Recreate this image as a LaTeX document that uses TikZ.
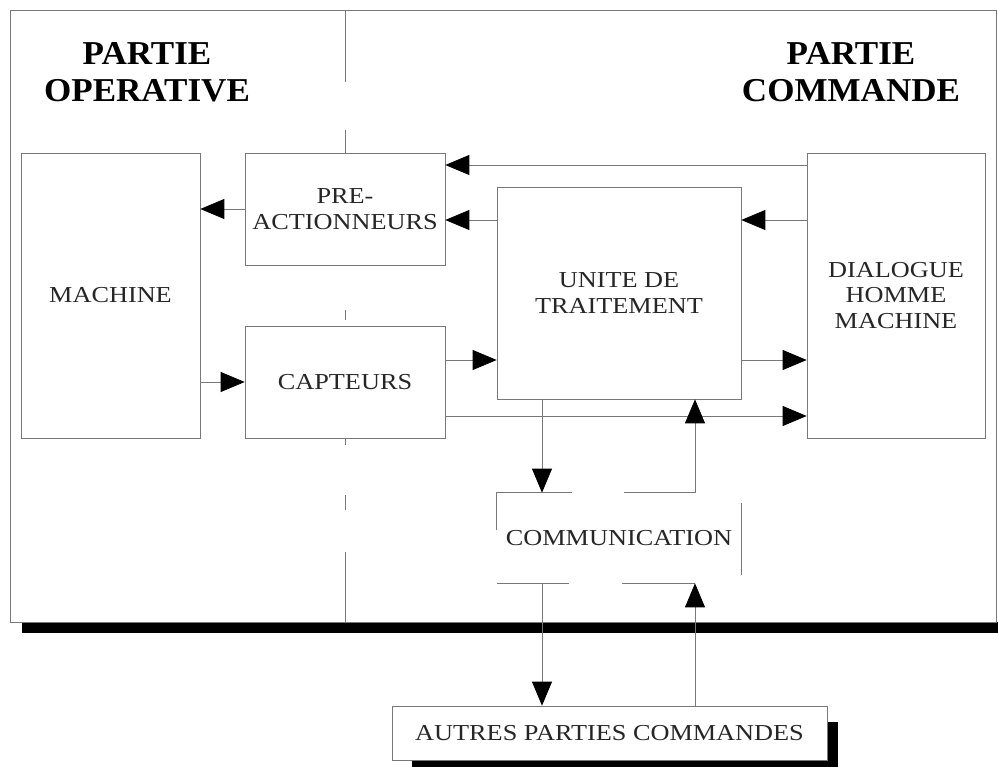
\documentclass[tikz,border=0pt]{standalone}
\usepackage{fontspec}
\setmainfont{Liberation Serif}[FakeStretch=1.15]
\newfontfamily\titlefont{Liberation Serif}[FakeStretch=1.05]
\usetikzlibrary{arrows.meta, positioning}
\definecolor{traitgris}{RGB}{120,120,120}
\tikzset{
line width=0.7pt, % thin grey strokes
>={Triangle[length=0.48cm, width=0.4cm, color=black]}, % big black heads
bloc/.style={draw=traitgris, fill=white, align=center, text=black!85, font=\fontsize{13}{14.5}\selectfont}, % the boxes
titre/.style={align=center, font=\titlefont\fontsize{19}{21}\selectfont\bfseries}, % the two headings
fleche/.style={draw=traitgris, ->}, % connectors
}

\begin{document}
\begin{tikzpicture}[x=0.02cm, y=-0.02cm]
      \useasboundingbox (0,0) rectangle (998,767);
      \fill[black] (22,622) rectangle (1010,633);
      \draw[traitgris, fill=white] (10,10) rectangle (996,622);
      \draw[traitgris] (345,10) -- (345,82) (345,130) -- (345,153) (345,310) -- (345,320)
      (345,438) -- (345,445) (345,495) -- (345,510) (345,552) -- (345,622);

      \node[titre] (po) at (147,72) {PARTIE\\OPERATIVE};
      \node[titre] (pc) at (851,72) {PARTIE\\COMMANDE};

      \node[bloc, minimum width=3.58cm, minimum height=5.7cm] (machine) at (110.5,295.5) {MACHINE};
      \node[bloc, minimum width=4cm, minimum height=2.24cm] (preact) at (345,209) {PRE-\\ACTIONNEURS};
      \node[bloc, minimum width=4cm, minimum height=2.24cm] (capteurs) at (345,382) {CAPTEURS};
      \node[bloc, minimum width=4.88cm, minimum height=4.24cm] (unite) at (619,293) {UNITE DE\\TRAITEMENT};
      \node[bloc, minimum width=3.56cm, minimum height=5.7cm] (dialogue) at (896,295.5) {DIALOGUE\\HOMME\\MACHINE};
      \node[bloc, draw=none, fill=none, minimum width=4.88cm, minimum height=1.8cm] (comm) at (619,538) {COMMUNICATION};
      \fill[black] (412,722) rectangle (838,780);
      \node[bloc, minimum width=8.7cm, minimum height=1.08cm] (autres) at (609.5,733) {AUTRES PARTIES COMMANDES};

      % broken outline of the communication box
      \draw[traitgris] (comm.north west) ++(0,37) -- ++(0,-37) -- ++(75,0)
      (comm.north west) ++(127,0) -- ++(71,0)
      (comm.north east) ++(0,10) -- ++(0,72)
      (comm.south west) -- ++(72,0)
      (comm.south west) ++(125,0) -- ++(73,0);

      \coordinate (l1) at (0,165);
      \coordinate (l2) at (0,220);
      \coordinate (l3) at (0,360);
      \coordinate (l4) at (0,416);
      \coordinate (bas) at (542,0);
      \coordinate (haut) at (695,0);

      \draw[fleche] (dialogue.west |- l1) -- (preact.east |- l1);
      \draw[fleche] (unite.west |- l2) -- (preact.east |- l2);
      \draw[fleche] (dialogue.west |- l2) -- (unite.east |- l2);
      \draw[fleche] (preact.west) -- (preact.west -| machine.east);
      \draw[fleche] (capteurs.west -| machine.east) -- (capteurs.west);
      \draw[fleche] (capteurs.east |- l3) -- (unite.west |- l3);
      \draw[fleche] (unite.east |- l3) -- (dialogue.west |- l3);
      \draw[fleche] (capteurs.east |- l4) -- (dialogue.west |- l4);
      \draw[fleche] (unite.south -| bas) -- (comm.north -| bas);
      \draw[fleche] (comm.north -| haut) -- (unite.south -| haut);
      \draw[fleche] (comm.south -| bas) -- (autres.north -| bas);
      \draw[fleche] (autres.north -| haut) -- (comm.south -| haut);
\end{tikzpicture}
\end{document}
